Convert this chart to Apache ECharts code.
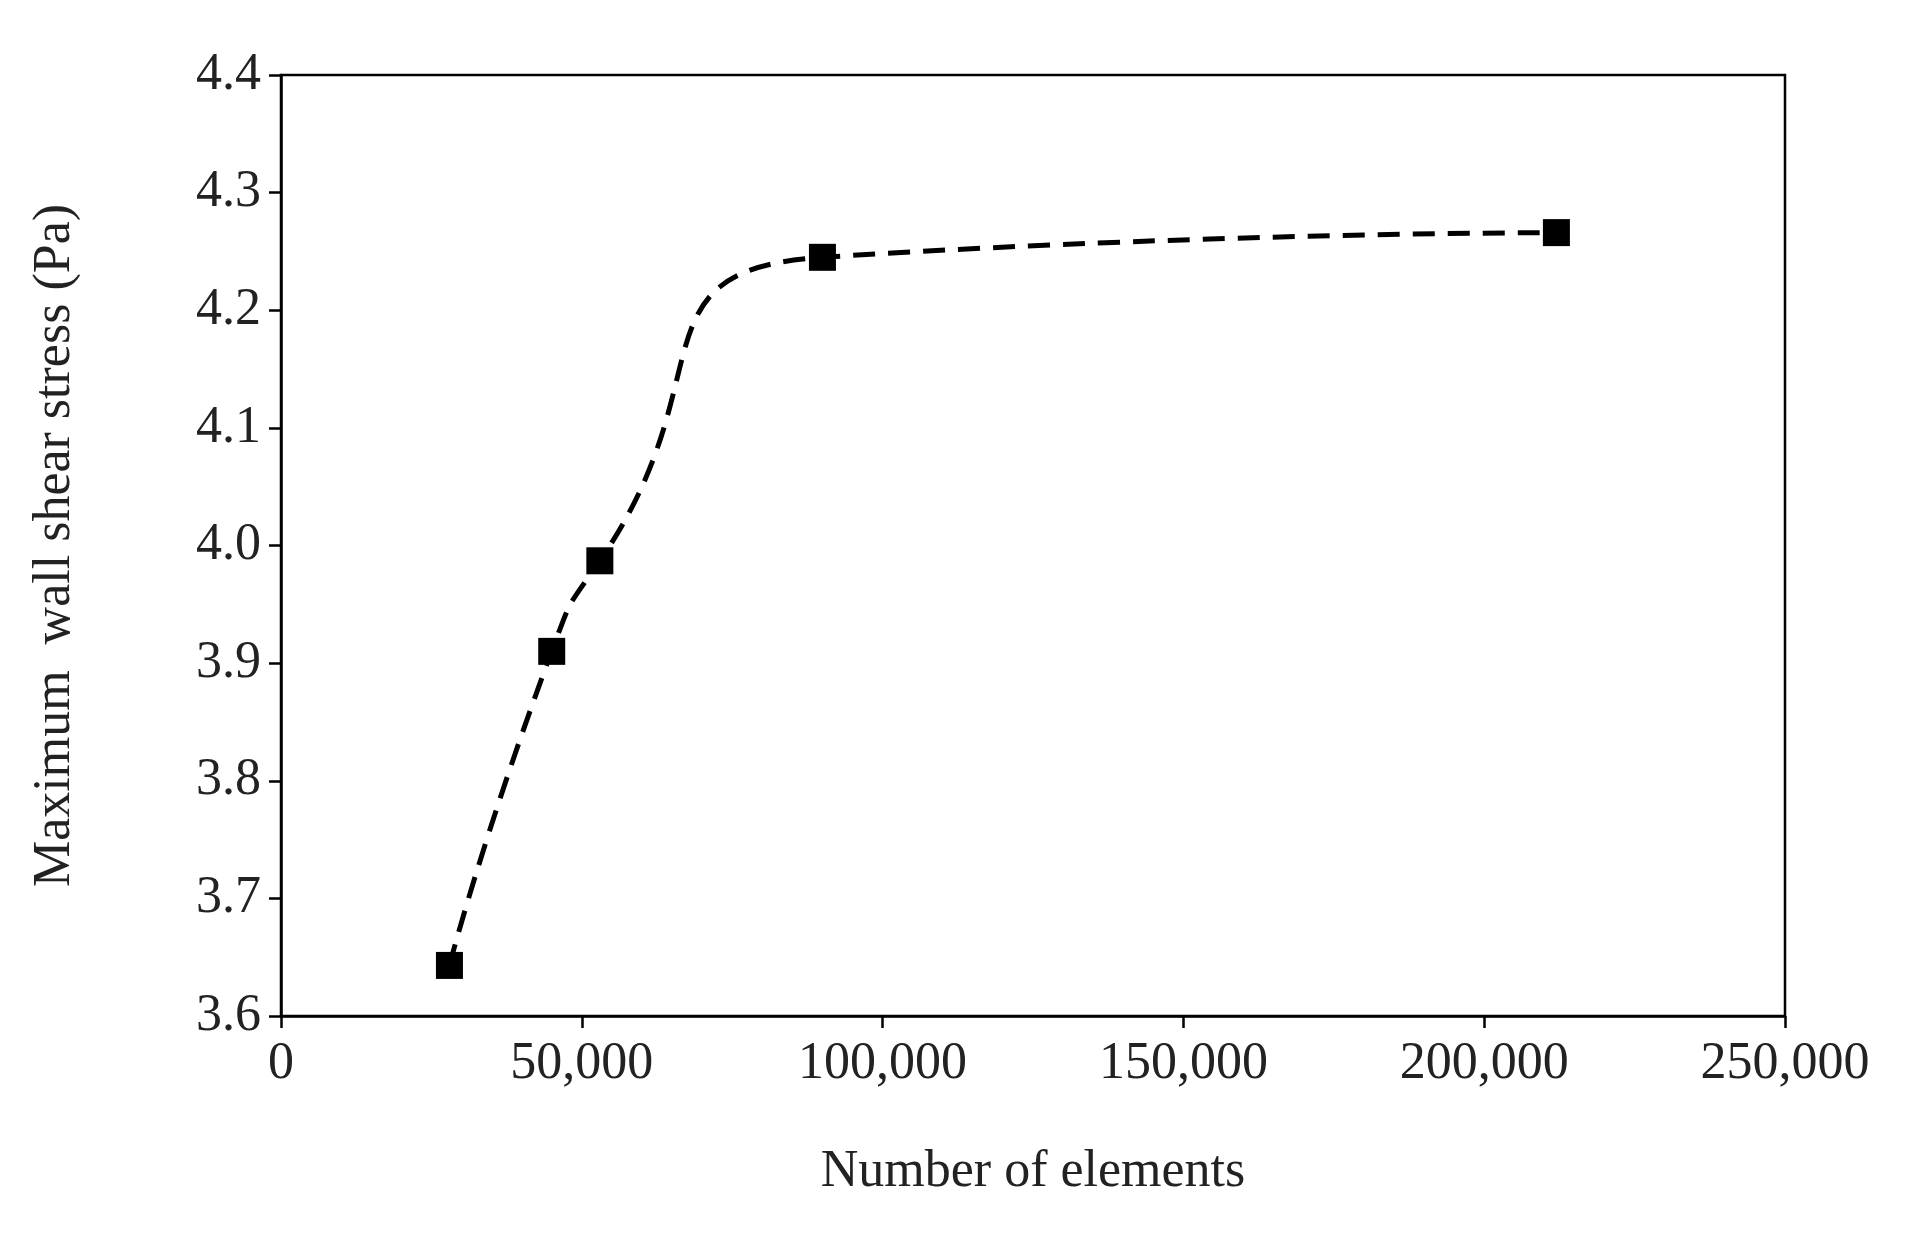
<!DOCTYPE html>
<html><head><meta charset="utf-8">
<script src="https://cdn.jsdelivr.net/npm/echarts@6/dist/echarts.min.js"></script>
<style>html,body{margin:0;padding:0;background:#fff}#c{width:1906px;height:1244px}</style>
</head><body><div id="c"></div>
<script>
const elements = [28000, 45000, 53000, 90000, 212000];
const stress = [3.643, 3.910, 3.987, 4.245, 4.266];
const xTitle = 'Number of elements';
const yTitle = 'Maximum  wall shear stress (Pa)';
const font = 'Liberation Serif';
const chart = echarts.init(document.getElementById('c'));
chart.setOption({
  animation: false,
  grid: {left: 281, right: 121, top: 75, bottom: 228, show: true, borderColor: '#000', borderWidth: 2.5},
  xAxis: {type: 'value', min: 0, max: 250000, interval: 50000,
    axisLine: {lineStyle: {color: '#000', width: 2.5}},
    axisTick: {show: true, length: 12, lineStyle: {color: '#000', width: 2.5}},
    splitLine: {show: false},
    axisLabel: {color: '#222', fontFamily: font, fontSize: 52, margin: 22,
      formatter: v => v.toLocaleString('en-US')},
    name: xTitle, nameLocation: 'middle', nameGap: 130,
    nameTextStyle: {color: '#222', fontFamily: font, fontSize: 52}},
  yAxis: {type: 'value', min: 3.6, max: 4.4, interval: 0.1,
    axisLine: {lineStyle: {color: '#000', width: 2.5}},
    axisTick: {show: true, length: 12, lineStyle: {color: '#000', width: 2.5}},
    splitLine: {show: false},
    axisLabel: {color: '#222', fontFamily: font, fontSize: 52, margin: 20,
      formatter: v => v.toFixed(1)},
    name: yTitle, nameLocation: 'middle', nameGap: 200,
    nameTextStyle: {color: '#222', fontFamily: font, fontSize: 52}},
  series: [{type: 'line', data: elements.map((x, i) => [x, stress[i]]),
    smooth: 0.6, symbol: 'rect', symbolSize: 27,
    itemStyle: {color: '#000'},
    lineStyle: {color: '#000', width: 5, type: [22, 13]}}]
});
</script></body></html>
